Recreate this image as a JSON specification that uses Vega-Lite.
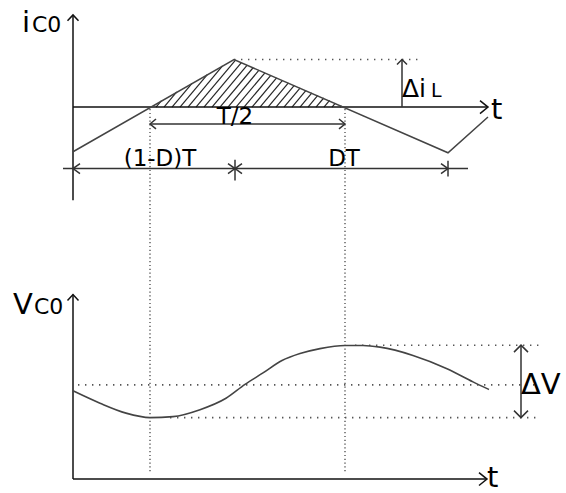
{
  "$schema": "https://vega.github.io/schema/vega-lite/v6.json",
  "width": 566,
  "height": 493,
  "autosize": {"type": "fit", "contains": "padding"},
  "padding": 0,
  "background": "white",
  "config": {"view": {"stroke": null}},
  "datasets": {
    "paths": [
      {"id": "a1", "role": "axis", "k": 0, "t": 73, "v": 15},
      {"id": "a1", "role": "axis", "k": 1, "t": 73, "v": 202},
      {"id": "a1h", "role": "axis", "k": 0, "t": 67.5, "v": 21},
      {"id": "a1h", "role": "axis", "k": 1, "t": 73, "v": 15},
      {"id": "a1h", "role": "axis", "k": 2, "t": 78.5, "v": 21},
      {"id": "a2", "role": "axis", "k": 0, "t": 73, "v": 108},
      {"id": "a2", "role": "axis", "k": 1, "t": 488, "v": 108},
      {"id": "a2h", "role": "axis", "k": 0, "t": 480, "v": 101.5},
      {"id": "a2h", "role": "axis", "k": 1, "t": 488, "v": 108},
      {"id": "a2h", "role": "axis", "k": 2, "t": 480, "v": 114.5},
      {"id": "a3", "role": "axis", "k": 0, "t": 73, "v": 297},
      {"id": "a3", "role": "axis", "k": 1, "t": 73, "v": 483},
      {"id": "a3h", "role": "axis", "k": 0, "t": 67.5, "v": 303},
      {"id": "a3h", "role": "axis", "k": 1, "t": 73, "v": 297},
      {"id": "a3h", "role": "axis", "k": 2, "t": 78.5, "v": 303},
      {"id": "a4", "role": "axis", "k": 0, "t": 73, "v": 483},
      {"id": "a4", "role": "axis", "k": 1, "t": 487, "v": 483},
      {"id": "a4h", "role": "axis", "k": 0, "t": 479, "v": 476.5},
      {"id": "a4h", "role": "axis", "k": 1, "t": 487, "v": 483},
      {"id": "a4h", "role": "axis", "k": 2, "t": 479, "v": 489.5},

      {"id": "d1", "role": "dim", "k": 0, "t": 402, "v": 108},
      {"id": "d1", "role": "dim", "k": 1, "t": 402, "v": 60},
      {"id": "d1h", "role": "dim", "k": 0, "t": 397, "v": 65},
      {"id": "d1h", "role": "dim", "k": 1, "t": 402, "v": 60},
      {"id": "d1h", "role": "dim", "k": 2, "t": 407, "v": 65},
      {"id": "d2", "role": "dim", "k": 0, "t": 150, "v": 125},
      {"id": "d2", "role": "dim", "k": 1, "t": 345, "v": 125},
      {"id": "d2l", "role": "dim", "k": 0, "t": 156, "v": 120},
      {"id": "d2l", "role": "dim", "k": 1, "t": 150, "v": 125},
      {"id": "d2l", "role": "dim", "k": 2, "t": 156, "v": 130},
      {"id": "d2r", "role": "dim", "k": 0, "t": 339, "v": 120},
      {"id": "d2r", "role": "dim", "k": 1, "t": 345, "v": 125},
      {"id": "d2r", "role": "dim", "k": 2, "t": 339, "v": 130},
      {"id": "d3", "role": "dim", "k": 0, "t": 63, "v": 170},
      {"id": "d3", "role": "dim", "k": 1, "t": 468, "v": 170},
      {"id": "d3l", "role": "dim", "k": 0, "t": 80, "v": 165},
      {"id": "d3l", "role": "dim", "k": 1, "t": 73, "v": 170},
      {"id": "d3l", "role": "dim", "k": 2, "t": 80, "v": 175},
      {"id": "d3m1", "role": "dim", "k": 0, "t": 228, "v": 165},
      {"id": "d3m1", "role": "dim", "k": 1, "t": 235, "v": 170},
      {"id": "d3m1", "role": "dim", "k": 2, "t": 228, "v": 175},
      {"id": "d3m2", "role": "dim", "k": 0, "t": 242, "v": 165},
      {"id": "d3m2", "role": "dim", "k": 1, "t": 235, "v": 170},
      {"id": "d3m2", "role": "dim", "k": 2, "t": 242, "v": 175},
      {"id": "d3mt", "role": "dim", "k": 0, "t": 235, "v": 161},
      {"id": "d3mt", "role": "dim", "k": 1, "t": 235, "v": 182},
      {"id": "d3r", "role": "dim", "k": 0, "t": 441, "v": 165},
      {"id": "d3r", "role": "dim", "k": 1, "t": 448, "v": 170},
      {"id": "d3r", "role": "dim", "k": 2, "t": 441, "v": 175},
      {"id": "d3rt", "role": "dim", "k": 0, "t": 448, "v": 162},
      {"id": "d3rt", "role": "dim", "k": 1, "t": 448, "v": 178},
      {"id": "d4", "role": "dim", "k": 0, "t": 521, "v": 348},
      {"id": "d4", "role": "dim", "k": 1, "t": 521, "v": 421},
      {"id": "d4t", "role": "dim", "k": 0, "t": 514, "v": 355},
      {"id": "d4t", "role": "dim", "k": 1, "t": 521, "v": 348},
      {"id": "d4t", "role": "dim", "k": 2, "t": 528, "v": 355},
      {"id": "d4b", "role": "dim", "k": 0, "t": 514, "v": 414},
      {"id": "d4b", "role": "dim", "k": 1, "t": 521, "v": 421},
      {"id": "d4b", "role": "dim", "k": 2, "t": 528, "v": 414},

      {"id": "w1", "role": "wave", "k": 0, "t": 73, "v": 153},
      {"id": "w1", "role": "wave", "k": 1, "t": 234, "v": 60},
      {"id": "w1", "role": "wave", "k": 2, "t": 448, "v": 154},
      {"id": "w1", "role": "wave", "k": 3, "t": 488, "v": 118},

      {"id": "w2", "role": "curve", "k": 0, "t": 73, "v": 394},
      {"id": "w2", "role": "curve", "k": 1, "t": 100, "v": 406.5},
      {"id": "w2", "role": "curve", "k": 2, "t": 126, "v": 416.5},
      {"id": "w2", "role": "curve", "k": 3, "t": 150, "v": 421},
      {"id": "w2", "role": "curve", "k": 4, "t": 173, "v": 420},
      {"id": "w2", "role": "curve", "k": 5, "t": 200, "v": 413},
      {"id": "w2", "role": "curve", "k": 6, "t": 226, "v": 401.5},
      {"id": "w2", "role": "curve", "k": 7, "t": 245, "v": 387.5},
      {"id": "w2", "role": "curve", "k": 8, "t": 263, "v": 376},
      {"id": "w2", "role": "curve", "k": 9, "t": 282, "v": 363.5},
      {"id": "w2", "role": "curve", "k": 10, "t": 300, "v": 356.5},
      {"id": "w2", "role": "curve", "k": 11, "t": 320, "v": 351.5},
      {"id": "w2", "role": "curve", "k": 12, "t": 345, "v": 348.3},
      {"id": "w2", "role": "curve", "k": 13, "t": 363, "v": 348.3},
      {"id": "w2", "role": "curve", "k": 14, "t": 380, "v": 350},
      {"id": "w2", "role": "curve", "k": 15, "t": 413, "v": 358.3},
      {"id": "w2", "role": "curve", "k": 16, "t": 447, "v": 371.7},
      {"id": "w2", "role": "curve", "k": 17, "t": 473, "v": 385},
      {"id": "w2", "role": "curve", "k": 18, "t": 489, "v": 392.7},

      {"id": "h1", "role": "hdot", "k": 0, "t": 234, "v": 60},
      {"id": "h1", "role": "hdot", "k": 1, "t": 418, "v": 60},
      {"id": "h2", "role": "hdot", "k": 0, "t": 78, "v": 388},
      {"id": "h2", "role": "hdot", "k": 1, "t": 540, "v": 388},
      {"id": "h3", "role": "hdot", "k": 0, "t": 170, "v": 421},
      {"id": "h3", "role": "hdot", "k": 1, "t": 540, "v": 421},
      {"id": "h4", "role": "hdot", "k": 0, "t": 355, "v": 348},
      {"id": "h4", "role": "hdot", "k": 1, "t": 540, "v": 348},
      {"id": "v1", "role": "vdot", "k": 0, "t": 150, "v": 110},
      {"id": "v1", "role": "vdot", "k": 1, "t": 150, "v": 478},
      {"id": "v2", "role": "vdot", "k": 0, "t": 345, "v": 110},
      {"id": "v2", "role": "vdot", "k": 1, "t": 345, "v": 478}
    ],
    "hatch": [
      {"t": 156, "v": 108, "t2": 161.5, "v2": 101.5},
      {"t": 164, "v": 108, "t2": 176.7, "v2": 92.7},
      {"t": 172, "v": 108, "t2": 192, "v2": 84},
      {"t": 180, "v": 108, "t2": 207.3, "v2": 75.3},
      {"t": 188, "v": 108, "t2": 222.5, "v2": 66.5},
      {"t": 196, "v": 108, "t2": 235.5, "v2": 60.6},
      {"t": 204, "v": 108, "t2": 241.4, "v2": 63.2},
      {"t": 212, "v": 108, "t2": 247.2, "v2": 65.7},
      {"t": 220, "v": 108, "t2": 253.1, "v2": 68.3},
      {"t": 228, "v": 108, "t2": 259, "v2": 70.8},
      {"t": 236, "v": 108, "t2": 264.9, "v2": 73.4},
      {"t": 244, "v": 108, "t2": 270.8, "v2": 75.9},
      {"t": 252, "v": 108, "t2": 276.6, "v2": 78.4},
      {"t": 260, "v": 108, "t2": 282.5, "v2": 81},
      {"t": 268, "v": 108, "t2": 288.4, "v2": 83.5},
      {"t": 276, "v": 108, "t2": 294.3, "v2": 86.1},
      {"t": 284, "v": 108, "t2": 300.2, "v2": 88.6},
      {"t": 292, "v": 108, "t2": 306, "v2": 91.2},
      {"t": 300, "v": 108, "t2": 311.9, "v2": 93.7},
      {"t": 308, "v": 108, "t2": 317.8, "v2": 96.2},
      {"t": 316, "v": 108, "t2": 323.7, "v2": 98.8},
      {"t": 324, "v": 108, "t2": 329.6, "v2": 101.3},
      {"t": 332, "v": 108, "t2": 335.4, "v2": 103.9},
      {"t": 340, "v": 108, "t2": 341.3, "v2": 106.4}
    ],
    "labels": [
      {"kind": "symbol", "text": "i", "t": 22, "v": 32},
      {"kind": "note", "text": "C0", "t": 32, "v": 32},
      {"kind": "symbol", "text": "V", "t": 13, "v": 317},
      {"kind": "note", "text": "C0", "t": 34, "v": 317},
      {"kind": "symbol", "text": "t", "t": 491, "v": 120},
      {"kind": "symbol", "text": "t", "t": 487, "v": 491},
      {"kind": "symbol", "text": "ΔV", "t": 521, "v": 397},
      {"kind": "delta", "text": "Δi", "t": 402, "v": 98},
      {"kind": "small", "text": "L", "t": 431, "v": 98},
      {"kind": "dimension", "text": "T/2", "t": 235, "v": 125},
      {"kind": "dimension", "text": "(1-D)T", "t": 160, "v": 167},
      {"kind": "dimension", "text": "DT", "t": 344, "v": 167}
    ]
  },
  "encoding": {
    "x": {"field": "t", "type": "quantitative", "scale": {"domain": [0, 566], "nice": false, "zero": false}, "axis": null},
    "y": {"field": "v", "type": "quantitative", "scale": {"domain": [0, 493], "reverse": true, "nice": false, "zero": false}, "axis": null}
  },
  "layer": [
    {
      "data": {"name": "hatch"},
      "mark": {"type": "rule", "color": "#262626", "strokeWidth": 1.2},
      "encoding": {"x2": {"field": "t2"}, "y2": {"field": "v2"}}
    },
    {
      "data": {"name": "paths"},
      "transform": [{"filter": "datum.role === 'hdot'"}],
      "mark": {"type": "line", "color": "#555555", "strokeWidth": 1.6, "strokeDash": [1.4, 5.6]},
      "encoding": {"detail": {"field": "id"}, "order": {"field": "k"}}
    },
    {
      "data": {"name": "paths"},
      "transform": [{"filter": "datum.role === 'vdot'"}],
      "mark": {"type": "line", "color": "#555555", "strokeWidth": 1.4, "strokeDash": [1.2, 2.6]},
      "encoding": {"detail": {"field": "id"}, "order": {"field": "k"}}
    },
    {
      "data": {"name": "paths"},
      "transform": [{"filter": "datum.role === 'axis' || datum.role === 'dim' || datum.role === 'wave'"}],
      "mark": {"type": "line", "strokeWidth": 1.5},
      "encoding": {
        "detail": {"field": "id"},
        "order": {"field": "k"},
        "color": {"field": "role", "type": "nominal", "scale": {"domain": ["axis", "dim", "wave"], "range": ["#111111", "#333333", "#444444"]}, "legend": null}
      }
    },
    {
      "data": {"name": "paths"},
      "transform": [{"filter": "datum.role === 'curve'"}],
      "mark": {"type": "line", "color": "#444444", "strokeWidth": 1.6, "interpolate": "monotone"},
      "encoding": {"order": {"field": "k"}}
    },
    {
      "data": {"name": "labels"},
      "transform": [{"filter": "datum.kind === 'symbol'"}],
      "mark": {"type": "text", "font": "DejaVu Sans", "fontSize": 29, "align": "left", "baseline": "alphabetic", "color": "#000000"},
      "encoding": {"text": {"field": "text"}}
    },
    {
      "data": {"name": "labels"},
      "transform": [{"filter": "datum.kind === 'delta'"}],
      "mark": {"type": "text", "font": "DejaVu Sans", "fontSize": 25, "align": "left", "baseline": "alphabetic", "color": "#000000"},
      "encoding": {"text": {"field": "text"}}
    },
    {
      "data": {"name": "labels"},
      "transform": [{"filter": "datum.kind === 'note'"}],
      "mark": {"type": "text", "font": "DejaVu Sans", "fontSize": 22, "align": "left", "baseline": "alphabetic", "color": "#000000"},
      "encoding": {"text": {"field": "text"}}
    },
    {
      "data": {"name": "labels"},
      "transform": [{"filter": "datum.kind === 'small'"}],
      "mark": {"type": "text", "font": "DejaVu Sans", "fontSize": 19, "align": "left", "baseline": "alphabetic", "color": "#000000"},
      "encoding": {"text": {"field": "text"}}
    },
    {
      "data": {"name": "labels"},
      "transform": [{"filter": "datum.kind === 'dimension'"}],
      "mark": {"type": "text", "font": "DejaVu Sans", "fontSize": 23, "align": "center", "baseline": "alphabetic", "color": "#000000"},
      "encoding": {"text": {"field": "text"}}
    }
  ]
}
